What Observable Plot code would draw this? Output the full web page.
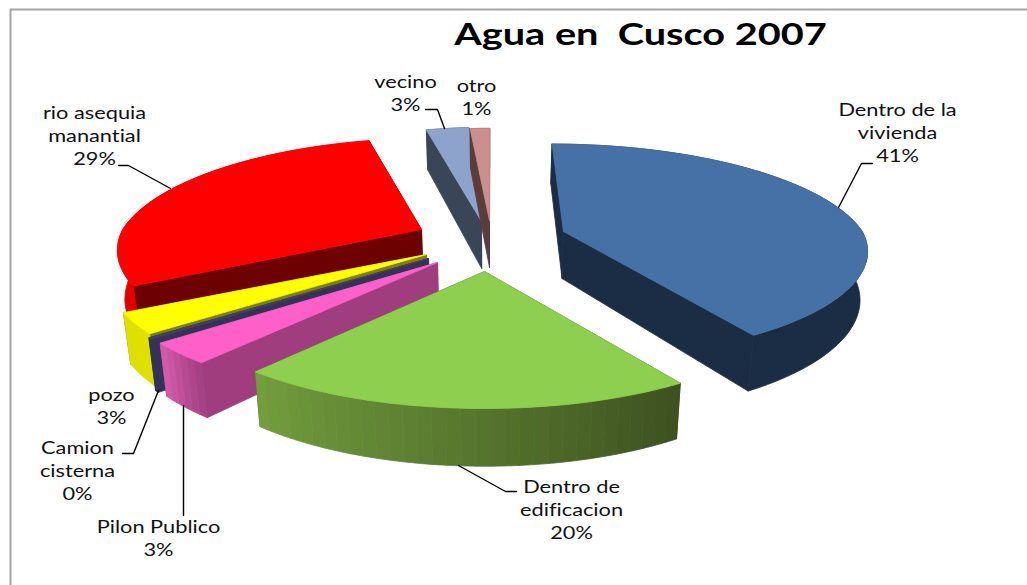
<!DOCTYPE html>
<html><head><meta charset="utf-8">
<script src="https://cdn.jsdelivr.net/npm/d3@7"></script>
<script src="https://cdn.jsdelivr.net/npm/@observablehq/plot@0.6"></script>
<style>html,body{margin:0;padding:0;background:#fff;overflow:hidden}</style>
</head><body><div id="chart"></div>
<script>
// Data
const names = ["Dentro de la vivienda","Dentro de edificacion","Pilon Publico","Camion cisterna","pozo","rio asequia manantial","vecino","otro"];
const values = [41,20,3,0.2,2.9,28.9,3,1];
const percents = ["41%","20%","3%","0%","3%","29%","3%","1%"];

// Styling and layout, one entry per slice
const topColors = ["#4571a6","#8fcf50","#ff5fc8","#3f3f70","#ffff00","#ff0000","#8ea3cc","#cc8e8e"];
const wallColors = ["#1b2d45","#3e5220","#9f3d7e","#33335a","#808000","#6d0000","#3a4558","#5a3c3c"];
const arcFrom = ["#1b2d45","#3d5020","#a03f80","#33335a","#e0e000","#e00000","#3a4558","#5a3c3c"];
const arcTo = ["#1b2d45","#739f3e","#d85cae","#33335a","#dcdc00","#e00000","#3a4558","#5a3c3c"];
const arcBands = [1,32,6,1,1,1,1,1];
const apexX = [563,484,437,428,426,421,481,489];
const apexY = [231,271,262,258,254,229,221,220];
const scaleX = [0.97,1,1.03,1.03,1.02,0.97,0.87,1.2];
const scaleY = [0.93,1,1,1,1,0.97,1,0.98];
const drawOrder = [5,4,3,2,1,6,7,0];
const labelLines = [
  ["Dentro de la","vivienda"],["Dentro de","edificacion"],["Pilon Publico"],["Camion","cisterna"],["pozo"],["rio asequia","manantial"],["vecino"],["otro"]];
const labelX = [897,571,158,77,111,94,405,476];
const labelY = [110,487,527,448,395,113,82,86];
const leaders = [
  [[872,163],[861,163],[838,207]],
  [[458,465],[505,491],[516,491]],
  [[183,405],[183,515]],
  [[122,453],[133,453],[158,390]],
  [[118,165],[128,165],[170,188]],
  [[425,109],[437,109],[444,128]]
];

// Pie projection: the base of the pie narrows slightly toward the centre
const R = 308, K = 111.5, Q = 0.186, D = 47, CX = 490, NARROW = 0.02;
const proj = (a, r, i, drop) => {
  const u = Math.sin(a) * r, v = -Math.cos(a) * r, w = 1 / (1 - Q * v);
  const x = CX + (apexX[i] - CX) * Math.min(w, 1) + R * scaleX[i] * u * w;
  return {
    x: x - (x - CX) * NARROW * drop / D,
    y: apexY[i] + K * scaleY[i] * v * w + drop * w
  };
};
const total = d3.sum(values);
let acc = 0;
const slices = values.map((v, i) => {
  const a0 = acc / total * 2 * Math.PI; acc += v;
  return {i, a0, a1: acc / total * 2 * Math.PI};
});
const marks = [];
const poly = (pts, fill) => marks.push(Plot.line([...pts, pts[0]], {x: "x", y: "y", fill, stroke: fill, strokeWidth: 0.8}));
const arc = (a0, a1, i, drop) => {
  const n = Math.max(4, Math.ceil((a1 - a0) * 40));
  return d3.range(n + 1).map(k => proj(a0 + (a1 - a0) * k / n, 1, i, drop));
};

for (const idx of drawOrder) {
  const {i, a0, a1} = slices[idx];
  const wall = a => [proj(a,0,i,0), proj(a,1,i,0), proj(a,1,i,D), proj(a,0,i,D)];
  poly(wall(a0), wallColors[i]);
  poly(wall(a1), wallColors[i]);
  const bands = arcBands[i];
  const shade = d3.interpolateRgb(arcFrom[i], arcTo[i]);
  for (let k = 0; k < bands; k++) {
    const b0 = a0 + (a1 - a0) * k / bands, b1 = a0 + (a1 - a0) * (k + 1) / bands;
    poly([...arc(b0, b1, i, 0), ...arc(b0, b1, i, D).reverse()], bands === 1 ? arcFrom[i] : shade((k + .5) / bands));
  }
  poly([proj(0,0,i,0), ...arc(a0, a1, i, 0)], topColors[i]);
}

for (const l of leaders) marks.push(Plot.line(l, {x: d => d[0], y: d => d[1], stroke: "#000", strokeWidth: 1.4}));

const labelRows = names.flatMap((_, i) => [...labelLines[i], percents[i]].map((text, j) => ({text, x: labelX[i], y: labelY[i] + j * 23})));
marks.push(Plot.text(labelRows, {x: "x", y: "y", text: "text", fill: "#111", fontSize: 17, fontFamily: "Lato", className: "stretch"}));
marks.push(Plot.text(["Agua en  Cusco 2007"], {x: () => 640, y: () => 35, text: d => d, fill: "#000", fontSize: 31, fontWeight: 700, fontFamily: "Lato", className: "stretch", style: {whiteSpace: "pre"}}));
// Frame
marks.push(Plot.line([[1027,9],[10,9],[10,585]], {x: d => d[0], y: d => d[1], stroke: "#a6a6a6", strokeWidth: 2}));

document.getElementById("chart").append(Plot.plot({
  width: 1027, height: 585, margin: 0,
  x: {domain: [0,1027], range: [0,1027], axis: null},
  y: {domain: [0,585], range: [0,585], axis: null},
  style: {background: "#fff"},
  marks
}));
// Reference type is horizontally stretched
document.querySelectorAll(".stretch text").forEach(t => {
  t.style.fontVariantLigatures = "none";
  t.setAttribute("textLength", t.getComputedTextLength() * 1.28);
  t.setAttribute("lengthAdjust", "spacingAndGlyphs");
});
</script></body></html>
